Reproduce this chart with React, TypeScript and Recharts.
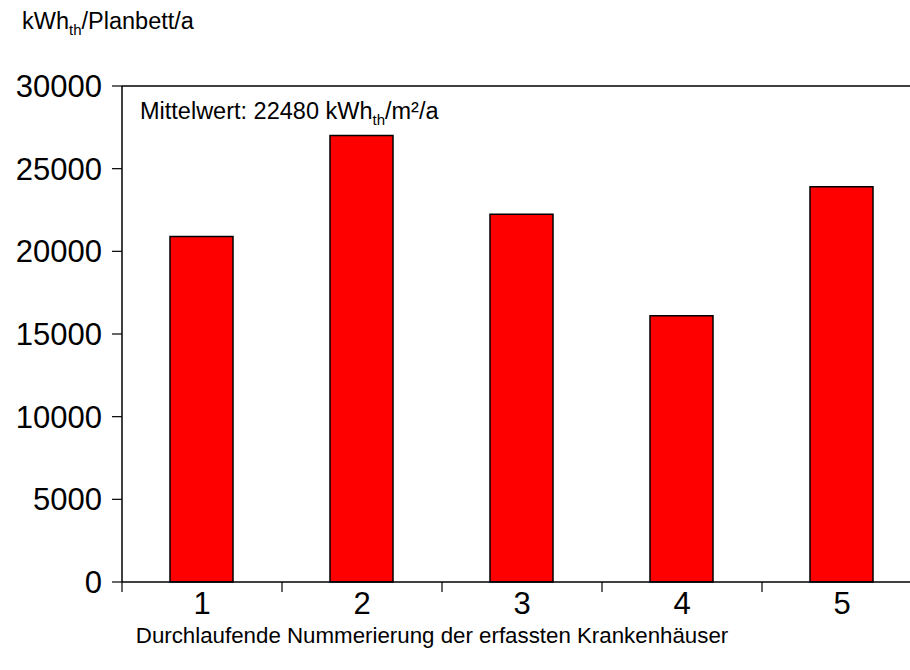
import React from 'react';
import { BarChart, Bar, XAxis, YAxis, ReferenceLine } from 'recharts';

// Krankenhaus-Nummer und Wärmeverbrauch je Planbett
const hospitals = [1, 2, 3, 4, 5];
const heatPerBed = [20900, 27000, 22250, 16100, 23900];
const yTicks = [0, 5000, 10000, 15000, 20000, 25000, 30000];
// ganze Zahlen = Beschriftung, halbe = Teilstrich zwischen den Kategorien
const xTicks = [0.5, 1, 1.5, 2, 2.5, 3, 3.5, 4, 4.5, 5, 5.5];
const meanLabel = '22480';

const data = hospitals.map((nr, i) => ({ nr, value: heatPerBed[i] }));

const font = '"Liberation Sans", Arial, sans-serif';

const XTick = (props: any) => {
  const { x, y, payload } = props;
  if (Number.isInteger(payload.value)) {
    return (
      <text x={x} y={y + 32} textAnchor="middle" fontSize={31} fontFamily={font} fill="#000">
        {payload.value}
      </text>
    );
  }
  return <line x1={x} x2={x} y1={y} y2={y + 10} stroke="#000" strokeWidth={1.2} />;
};

export default function App() {
  return (
    <div style={{ position: 'absolute', left: 0, top: 0, width: 910, height: 670, overflow: 'hidden', background: '#fff', fontFamily: font }}>
      <BarChart width={940} height={670} data={data} margin={{ top: 86, right: 18, left: 0, bottom: 0 }}>
        <XAxis
          dataKey="nr"
          type="number"
          domain={[0.5, 5.5]}
          ticks={xTicks}
          interval={0}
          allowDataOverflow
          height={88}
          tickLine={false}
          tickSize={0}
          tickMargin={0}
          axisLine={{ stroke: '#000', strokeWidth: 1.5 }}
          tick={<XTick />}
        />
        <YAxis
          domain={[0, 30000]}
          ticks={yTicks}
          interval={0}
          width={122}
          tickSize={10}
          tickMargin={10}
          axisLine={{ stroke: '#000', strokeWidth: 1.5 }}
          tickLine={{ stroke: '#000', strokeWidth: 1.2 }}
          tick={{ fill: '#000', fontSize: 31, fontFamily: font }}
        />
        <ReferenceLine y={30000} stroke="#000" strokeWidth={1.5} />
        <Bar dataKey="value" barSize={63} fill="#ff0000" stroke="#000" strokeWidth={1.5} isAnimationActive={false} />
      </BarChart>

      <div style={{ position: 'absolute', left: 22, top: 8, fontSize: 23.5, color: '#000' }}>
        kWh<sub style={{ fontSize: 15 }}>th</sub>/Planbett/a
      </div>
      <div style={{ position: 'absolute', left: 140, top: 98, fontSize: 23.5, color: '#000' }}>
        Mittelwert: {meanLabel} kWh<sub style={{ fontSize: 15 }}>th</sub>/m²/a
      </div>
      <div style={{ position: 'absolute', left: 120, top: 623, width: 624, textAlign: 'center', fontSize: 22.3, color: '#000', whiteSpace: 'nowrap' }}>
        Durchlaufende Nummerierung der erfassten Krankenhäuser
      </div>
    </div>
  );
}
